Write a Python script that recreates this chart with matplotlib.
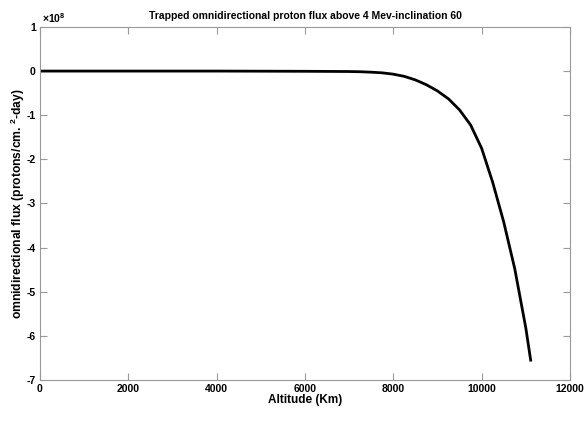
import matplotlib
matplotlib.use("Agg")
import matplotlib.pyplot as plt
from matplotlib.ticker import FuncFormatter

plt.rcParams['font.family'] = ['Liberation Sans', 'DejaVu Sans']
plt.rcParams['font.weight'] = 'bold'
plt.rcParams['axes.unicode_minus'] = False
plt.rcParams['mathtext.fontset'] = 'custom'
plt.rcParams['mathtext.rm'] = 'Liberation Sans:bold'
plt.rcParams['mathtext.bf'] = 'Liberation Sans:bold'
plt.rcParams['mathtext.default'] = 'bf'

altitude_km = [0, 2000, 4000, 6000, 7000, 7250, 7500, 7750, 8000, 8250, 8500,
               8750, 9000, 9250, 9500, 9750, 10000, 10250, 10500, 10750,
               11000, 11110]
flux_e8 = [0.0, 0.0, 0.0, -0.005, -0.01, -0.015, -0.025, -0.04, -0.07, -0.12,
           -0.20, -0.31, -0.45, -0.63, -0.88, -1.22, -1.75, -2.52, -3.42,
           -4.48, -5.82, -6.55]
flux = [v * 1e8 for v in flux_e8]

x_ticks = [0, 2000, 4000, 6000, 8000, 10000, 12000]
y_ticks_e8 = [-7, -6, -5, -4, -3, -2, -1, 0, 1]

fig = plt.figure(figsize=(5.87, 4.21), dpi=100)
ax = fig.add_axes([0.068, 0.0974, 0.903, 0.8386])
ax.plot(altitude_km, flux, color='black', linewidth=2.0)

ax.set_xlim(0, 12000)
ax.set_ylim(-7e8, 1e8)
ax.set_xticks(x_ticks)
ax.set_yticks([v * 1e8 for v in y_ticks_e8])
ax.yaxis.set_major_formatter(FuncFormatter(lambda v, p: f"{v / 1e8:g}"))
ax.xaxis.set_major_formatter(FuncFormatter(lambda v, p: f"{v:g}"))
ax.text(0.003, 1.005, r'$\times$10$^{8}$', transform=ax.transAxes,
        fontsize=7.5, fontweight='bold', ha='left', va='bottom')

for s in ax.spines.values():
    s.set_color('#999999')
    s.set_linewidth(0.8)
ax.tick_params(direction='in', length=5, width=0.8, color='#999999',
               labelsize=7.5, top=True, right=True)
ax.tick_params(axis='x', pad=3)
ax.tick_params(axis='y', pad=3)
for lab in ax.get_xticklabels() + ax.get_yticklabels():
    lab.set_fontweight('bold')

ax.set_title('Trapped omnidirectional proton flux above 4 Mev-inclination 60',
             fontsize=7.5, fontweight='bold', pad=6)
ax.set_xlabel('Altitude (Km)', fontsize=8.5, fontweight='bold', labelpad=0)
ax.set_ylabel(r'omnidirectional flux (protons/cm. $^{2}$-day)', fontsize=8.7,
              fontweight='bold')
ax.yaxis.set_label_coords(-0.024, 0.5)

fig.savefig('out.png', dpi=100)
